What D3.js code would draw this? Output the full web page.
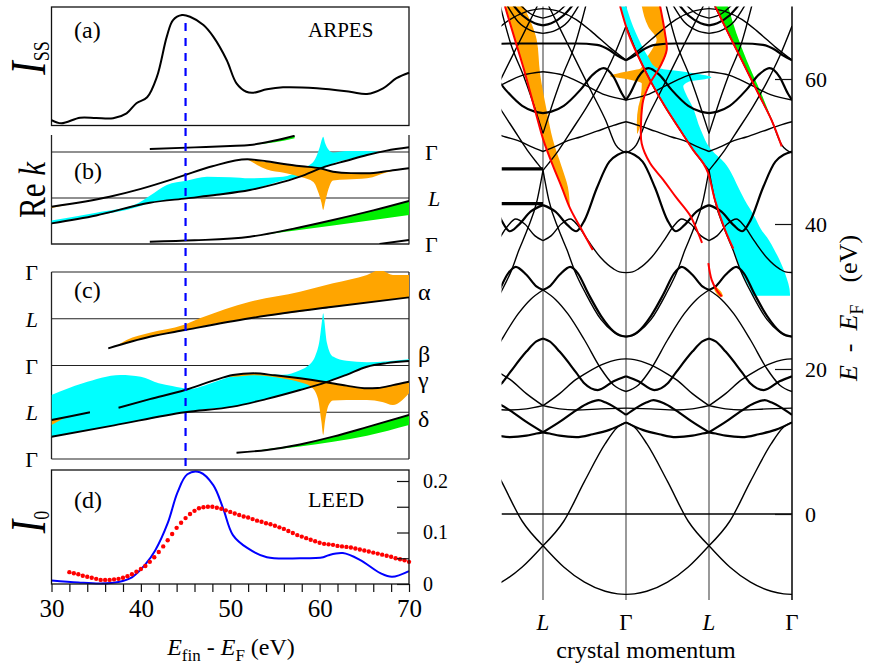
<!DOCTYPE html>
<html>
<head>
<meta charset="utf-8">
<script src="https://cdn.jsdelivr.net/npm/d3@7/dist/d3.min.js"></script>
<style>
  html, body { margin: 0; padding: 0; background: #fff; }
  svg { display: block; }
  text { font-family: "Liberation Serif", "Times New Roman", serif; fill: #000; }
</style>
</head>
<body>
<svg id="fig" width="872" height="669"></svg>
<script>
// ---------------- (a) ARPES surface-state intensity (arb. units) ----------------
const arpesE = [30, 31.1, 33.2, 35, 36.9, 38.4, 39.5, 40.7, 41.8, 42.9, 43.6, 44.6, 45.5, 47.0, 48.1, 49.6, 50.7, 51.8, 52.6, 54.1, 55.9, 59.7, 63.4, 65.3, 67.1, 68.6, 70];
const arpesI = [0.046, 0.019, 0.066, 0.063, 0.061, 0.103, 0.188, 0.238, 0.412, 0.75, 0.89, 0.932, 0.918, 0.848, 0.75, 0.553, 0.356, 0.285, 0.277, 0.305, 0.322, 0.314, 0.285, 0.266, 0.314, 0.399, 0.445];

// ---------------- (d) LEED specular intensity ----------------
const leedCalcE = [30, 33, 35.5, 37.5, 39.0, 40.5, 41.6, 43, 44.1, 45.2, 46.6, 48.1, 49.2, 50.3, 51.9, 54.1, 57.8, 60.4, 61, 62.6, 64.5, 66.8, 68.1, 70];
const leedCalcI = [0.007, 0.003, 0.001, 0.004, 0.013, 0.038, 0.065, 0.118, 0.178, 0.213, 0.217, 0.192, 0.147, 0.095, 0.07, 0.052, 0.05, 0.052, 0.056, 0.06, 0.047, 0.021, 0.014, 0.025];
const leedExpE = [32, 32.5, 33, 33.5, 34, 34.5, 35, 35.5, 36, 36.5, 37, 37.5, 38, 38.5, 39, 39.5, 40, 40.5, 41, 41.5,
  42, 42.5, 43, 43.5, 44, 44.5, 45, 45.5, 46, 46.5, 47, 47.5, 48, 48.5, 49, 49.5, 50, 50.5, 51, 51.5,
  52, 52.5, 53, 53.5, 54, 54.5, 55, 55.5, 56, 56.5, 57, 57.5, 58, 58.5, 59, 59.5, 60, 60.5, 61, 61.5,
  62, 62.5, 63, 63.5, 64, 64.5, 65, 65.5, 66, 66.5, 67, 67.5, 68, 68.5, 69, 69.5, 70];
const leedExpI = [0.023, 0.021, 0.019, 0.016, 0.014, 0.012, 0.010, 0.008, 0.008, 0.008, 0.009, 0.010, 0.012, 0.015, 0.019, 0.024, 0.029, 0.035, 0.043, 0.052,
  0.062, 0.073, 0.085, 0.097, 0.109, 0.119, 0.128, 0.136, 0.142, 0.147, 0.149, 0.150, 0.150, 0.148, 0.146, 0.143, 0.140, 0.137, 0.134, 0.131,
  0.129, 0.126, 0.123, 0.121, 0.118, 0.116, 0.113, 0.110, 0.107, 0.103, 0.099, 0.095, 0.092, 0.089, 0.086, 0.083, 0.080, 0.078, 0.077, 0.076,
  0.074, 0.073, 0.072, 0.071, 0.069, 0.067, 0.065, 0.063, 0.061, 0.059, 0.057, 0.055, 0.053, 0.050, 0.048, 0.046, 0.043];
const dTicksE = [30, 32, 34, 36, 38, 40, 42, 44, 46, 48, 50, 52, 54, 56, 58, 60, 62, 64, 66, 68, 70];
const dTicksI = [0, 0.05, 0.1, 0.15, 0.2];
const dLabelsI = {0: "0", 0.1: "0.1", 0.2: "0.2"};

// ---------------- (b) Re k of the final states: [E, k] ----------------
const bTop    = [[41.0, 2.065], [46, 2.10], [50, 2.13], [52.2, 2.152], [55, 2.25], [57.2, 2.354]];
const bUpper  = [[30, 0.811], [36.5, 1.028], [40, 1.2], [44.4, 1.463], [48, 1.69], [51.9, 1.841], [54, 1.80], [56, 1.74], [58, 1.69], [60.0, 1.646], [61.5, 1.572], [63.5, 1.54], [65.3, 1.537], [67.8, 1.59], [70, 1.646]];
const bLower  = [[30, 0.449], [35, 0.62], [41, 0.898], [45.1, 0.993], [48.5, 1.07], [52.2, 1.174], [55, 1.30], [57.8, 1.463], [60.6, 1.68], [63, 1.81], [65.3, 1.935], [67.5, 2.03], [70, 2.102]];
const bBottom = [[41.0, 0.05], [46, 0.08], [52.2, 0.159], [57, 0.33], [61.5, 0.522], [66, 0.73], [70, 0.935]];
const bCorner = [[66.7, 0], [70, 0.087]];
// weights drawn as bands: [E, kLow, kHigh]
const bCyan = [[30, 0.449, 0.51], [35, 0.62, 0.68], [39.5, 0.80, 0.87], [41, 0.898, 1.05], [42.9, 0.95, 1.283], [45.1, 0.993, 1.376], [47.4, 1.04, 1.463], [50, 1.11, 1.45], [52.2, 1.174, 1.428], [55.9, 1.38, 1.463], [57.8, 1.463, 1.60], [58.55, 1.50, 1.68], [59.5, 1.56, 1.85], [60.0, 1.60, 2.1], [60.3, 1.63, 2.30], [60.4, 1.64, 2.33], [60.6, 1.66, 2.2], [61, 1.70, 2.05], [61.5, 1.75, 1.99], [63, 1.83, 2.02], [65.3, 1.935, 2.02], [66.5, 1.99, 2.01]];
const bOrangeL = [[30, 0.78, 0.811], [32.5, 0.88, 0.89]];
const bOrange = [[51.9, 1.84, 1.841], [53, 1.72, 1.82], [54.1, 1.62, 1.78], [56, 1.55, 1.74], [58, 1.45, 1.69], [59.3, 1.35, 1.665], [59.9, 1.1, 1.65], [60.2, 0.9, 1.645], [60.4, 0.739, 1.64], [60.6, 0.9, 1.63], [61, 1.2, 1.60], [61.5, 1.38, 1.572], [63, 1.40, 1.55], [65.3, 1.428, 1.537], [67.8, 1.572, 1.59], [68.5, 1.6, 1.6]];
const bGreenTop = [[52.8, 2.16, 2.16], [55, 2.21, 2.25], [57.2, 2.30, 2.354]];
const bGreen = [[52.8, 0.17, 0.17], [56, 0.26, 0.30], [61.5, 0.40, 0.522], [66, 0.52, 0.73], [70, 0.63, 0.935]];
const bRightLabels = ["\u0393", "L", "\u0393"];

// ---------------- (c) Re k in the extended zone ----------------
const cAlpha  = [[36.35, 2.368], [41.0, 2.616], [44.94, 2.759], [52.2, 3.01], [61.5, 3.258], [70, 3.457]];
const cGammaL = [[30, 0.834], [32, 0.91], [34.3, 0.999]];
const cGammaR = [[37.5, 1.097], [41, 1.28], [44.94, 1.476], [48, 1.67], [50.3, 1.797], [52.6, 1.833], [55, 1.79], [57.8, 1.726], [60.4, 1.653], [63, 1.57], [65.3, 1.512], [66.5, 1.52], [68.2, 1.58], [70, 1.653]];
const cBeta   = [[30, 0.477], [37, 0.72], [44.94, 0.999], [50.3, 1.119], [54, 1.28], [57.8, 1.476], [60.6, 1.632], [63, 1.80], [65.3, 1.974], [67.5, 2.05], [70, 2.096]];
const cDelta  = [[50.7, 0.135], [54.1, 0.193], [57.8, 0.31], [61.5, 0.477], [65.3, 0.68], [70, 0.941]];
const cOrangeAlpha = [[37.5, 2.43, 2.45], [38.4, 2.48, 2.545], [41, 2.616, 2.70], [44.75, 2.75, 2.866], [46.6, 2.83, 3.01], [52.2, 3.01, 3.365], [57.8, 3.15, 3.578], [61.5, 3.258, 3.758], [65.3, 3.34, 3.936], [66.75, 3.38, 4.043], [68.2, 3.42, 3.936], [70, 3.457, 3.936]];
const cCyan = [[30, 0.477, 1.369], [33.5, 0.599, 1.619], [37.7, 0.746, 1.797], [40, 0.826, 1.76], [42, 0.895, 1.619], [43.5, 0.95, 1.56], [45.5, 1.02, 1.50], [48, 1.08, 1.63], [50.3, 1.119, 1.77], [52.6, 1.21, 1.81], [55.9, 1.38, 1.80], [57.8, 1.476, 1.90], [58.55, 1.52, 1.974], [59.5, 1.56, 2.2], [60.0, 1.59, 2.55], [60.3, 1.61, 3.0], [60.4, 1.62, 3.117], [60.5, 1.625, 3.0], [60.8, 1.645, 2.5], [61.5, 1.70, 2.19], [63, 1.80, 2.10], [65.3, 1.974, 2.068], [70, 2.096, 2.132]];
const cOrangeL = [[30, 0.727, 0.834], [31.7, 0.905, 0.905]];
const cOrange = [[49.5, 1.76, 1.77], [50.3, 1.76, 1.797], [52.6, 1.79, 1.833], [55.9, 1.72, 1.775], [57.8, 1.64, 1.726], [59, 1.55, 1.69], [59.8, 1.3, 1.67], [60.2, 0.8, 1.66], [60.4, 0.513, 1.653], [60.6, 0.8, 1.645], [61, 1.15, 1.63], [61.5, 1.25, 1.61], [63, 1.26, 1.57], [65.3, 1.262, 1.512], [67, 1.22, 1.53], [68.2, 1.155, 1.58], [70, 1.405, 1.653]];
const cGreen = [[52.7, 0.17, 0.17], [55, 0.21, 0.235], [57.8, 0.27, 0.31], [61.5, 0.37, 0.477], [65.3, 0.5, 0.68], [70, 0.727, 0.941]];
const cLeftLabels = ["\u0393", "L", "\u0393", "L", "\u0393"];
const cBranchNames = ["\u03b1", "\u03b2", "\u03b3", "\u03b4"];
const cBranchK = [3.55, 2.22, 1.67, 0.83];

// ---------------- band structure along the [111] line, Gamma (u=0) -> L (u=1): [u, E] ----------------
const bandA  = [[0, -11.08], [0.1, -11.01], [0.25, -10.66], [0.5, -9.4], [0.75, -7.3], [1, -4.37]];
const bandB  = [[0, 12.64], [0.1, 12.0], [0.25, 9.7], [0.5, 4.5], [0.75, -1.0], [1, -4.37]];
const bandC  = [[0, 12.64], [0.2, 11.6], [0.4, 11.0], [0.6, 10.6], [0.8, 10.8], [0.92, 11.1], [1, 11.27]];
const bandD  = [[0, 13.66], [0.12, 14.6], [0.25, 15.4], [0.33, 15.7], [0.45, 15.3], [0.6, 14.3], [0.8, 12.7], [1, 11.27]];
const bandE  = [[0, 14.6], [0.3, 14.5], [0.6, 14.35], [0.8, 14.5], [1, 14.94]];
const bandF  = [[0, 21.4], [0.1, 21.3], [0.29, 20.6], [0.5, 19.3], [0.61, 18.5], [0.8, 16.6], [1, 14.94]];
const bandG  = [[0, 19.0], [0.15, 18.3], [0.34, 17.1], [0.5, 18.0], [0.6, 19.5], [0.8, 22.4], [0.92, 23.8], [1, 24.2]];
const bandH  = [[0, 24.46], [0.08, 24.7], [0.15, 25.2], [0.3, 27.3], [0.45, 30.3], [0.58, 33.2], [0.67, 34.1], [0.8, 33.0], [0.92, 31.4], [1, 30.9]];
const bandI  = [[0, 24.46], [0.08, 24.6], [0.15, 25.1], [0.3, 26.8], [0.48, 30.3], [0.62, 33.6], [0.71, 36.4], [0.81, 39.2], [0.93, 43.3], [1, 47.4]];
const bandI2 = [[0, 16.9], [0.15, 17.8], [0.3, 20.0], [0.5, 24.0], [0.7, 27.6], [0.85, 29.6], [1, 30.9]];
const bandJ  = [[0, 33.3], [0.08, 33.4], [0.15, 33.8], [0.3, 35.3], [0.45, 37.6], [0.58, 39.8], [0.67, 40.7], [0.78, 40.0], [0.9, 38.4], [1, 37.7]];
const bandK  = [[0, 50.0], [0.2, 48.6], [0.35, 45.0], [0.5, 40.5], [0.6, 39.0], [0.7, 39.8], [0.85, 41.7], [1, 42.6]];
const bandQ  = [[0, 67.3], [0.15, 63.1], [0.31, 59.4], [0.47, 56.2], [0.65, 53.0], [0.81, 50.2], [0.93, 48.4], [1, 47.4]];
const bandV  = [[0.48, 70.3], [0.61, 64.9], [0.77, 60.3], [0.91, 55.7], [1, 52.5]];
const bandW  = [[0, 49.8], [0.124, 50.9], [0.245, 54.3], [0.406, 58.0], [0.606, 62.6], [0.767, 66.3], [0.928, 70.0], [0.97, 71]];
const bandX  = [[0, 54.1], [0.15, 53.6], [0.35, 52.8], [0.55, 52.0], [0.7, 51.5], [0.85, 50.7], [1, 50.0]];
const bandY  = [[0, 57.1], [0.05, 58.0], [0.15, 60.3], [0.27, 61.5], [0.4, 60.6], [0.55, 58.5], [0.75, 56.3], [0.9, 55.5], [1, 55.3]];
const bandT1 = [[0, 62.6], [0.1, 63.2], [0.2, 64.0], [0.35, 64.7], [0.6, 64.9], [1, 64.9]];
const bandT2 = [[0, 57.1], [0.25, 57.8], [0.5, 59.2], [0.75, 60.5], [1, 61.0]];
const bandT3 = [[0, 62.6], [0.2, 64.4], [0.4, 66.4], [0.6, 68.2], [0.8, 69.3], [1, 69.7]];
const bandU1 = [[0.55, 70.5], [0.7, 67.9], [0.85, 66.7], [1, 66.3]];
const bandU2 = [[0.62, 70.5], [0.75, 68.8], [0.9, 67.7], [1, 67.4]];
const bandU3 = [[0.7, 70.5], [0.85, 69.0], [1, 68.4]];
const thinBands  = [bandA, bandB, bandE, bandF, bandI, bandI2, bandJ, bandQ, bandV, bandW, bandX, bandT2, bandT3, bandU1, bandU3];
const thickBands = [bandC, bandD, bandG, bandH, bandK, bandY, bandT1, bandU2];
const lMarkE = [47.6, 42.8];

// final-state weights on the band plot: [E, kLeft, kRight] and red guide paths [k, E]
const orangeLeft = [[70.1, -1.46, -1.237], [65.4, -1.337, -1.076], [60.8, -1.217, -1.036], [55.7, -1.096, -0.956], [51.6, -0.996, -0.88], [47.9, -0.876, -0.775], [45.1, -0.775, -0.70], [42.2, -0.675, -0.675]];
const orangeS = [[70.1, 0.189, 0.41], [67.2, 0.269, 0.455], [65.4, 0.37, 0.48], [64.0, 0.31, 0.49], [62.2, 0.208, 0.44], [61.5, 0.18, 0.41], [61.0, -0.01, 0.39], [60.4, -0.193, 0.36], [59.9, 0.05, 0.33], [59.4, 0.19, 0.289], [57.1, 0.17, 0.208], [56.2, 0.149, 0.20], [53.9, 0.13, 0.181], [52.5, 0.133, 0.14]];
const orangeSmall = [[31.6, 1.05, 1.06], [30.6, 1.08, 1.15], [30.0, 1.12, 1.17]];
const cyanBand = [[70.1, -0.072, 0.0], [66.3, 0.028, 0.12], [63.1, 0.148, 0.265], [61.6, 0.20, 0.36], [61.0, 0.23, 0.70], [60.2, 0.27, 1.03], [59.6, 0.30, 0.75], [59.0, 0.33, 0.69], [58.0, 0.39, 0.72], [56.2, 0.47, 0.80], [53.0, 0.65, 0.90], [50.2, 0.81, 1.03], [48.4, 0.93, 1.19], [47.0, 0.99, 1.27], [45.6, 1.03, 1.33], [43.3, 1.072, 1.43], [41.0, 1.13, 1.55], [39.2, 1.193, 1.63], [37.8, 1.253, 1.72], [36.6, 1.293, 1.78], [33.2, 1.398, 1.916], [30.3, 1.518, 1.976], [30.1, 1.52, 1.976]];
const greenBand = [[70.1, 1.072, 1.229], [66.3, 1.233, 1.33], [62.6, 1.394, 1.454], [58.0, 1.594, 1.63], [54.3, 1.755, 1.76]];
const redLeft  = [[-1.46, 70.1], [-1.337, 65.4], [-1.217, 60.8], [-1.096, 55.7], [-0.996, 51.6], [-0.876, 47.9], [-0.775, 45.1], [-0.675, 42.2], [-0.534, 39.2], [-0.40, 36.4]];
const redS     = [[0.41, 70.1], [0.47, 66.3], [0.49, 64.0], [0.41, 61.7], [0.289, 59.4], [0.208, 57.1], [0.181, 53.9], [0.189, 51.1], [0.289, 48.4], [0.449, 46.1], [0.602, 43.7], [0.771, 41.2], [0.867, 38.8], [0.916, 37.4]];
const redCyan  = [[-0.072, 70.1], [0.028, 66.3], [0.148, 63.1], [0.31, 59.4], [0.47, 56.2], [0.65, 53.0], [0.81, 50.2], [0.93, 48.4], [0.99, 47.0], [1.072, 43.3], [1.193, 39.2], [1.293, 36.6]];
const redGreen = [[1.072, 70.1], [1.233, 66.3], [1.394, 62.6], [1.594, 58.0], [1.755, 54.3], [1.876, 50.7]];
const redShort = [[0.992, 34.6], [1.032, 32.3], [1.092, 30.9], [1.153, 30.0]];
const kTickPos = [-1, 0, 1, 2];
const kTickLab = ["L", "\u0393", "L", "\u0393"];
const eTicks = [0, 20, 40, 60];

// ================= drawing =================
const SERIF = '"Liberation Serif", "Times New Roman", serif';
const ORANGE = "#ffa500", CYAN = "#00ffff", GREEN = "#00f000", RED = "#ff0000", BLUE = "#0000ff";
const svg = d3.select("#fig");

const xE = d3.scaleLinear().domain([30, 70]).range([51.5, 409]);
const ya = d3.scaleLinear().domain([0, 1]).range([125.5, 7]);
const yb = d3.scaleLinear().domain([0, 2]).range([244, 152]);
const yc = d3.scaleLinear().domain([0, 4]).range([459, 272]);
const yd = d3.scaleLinear().domain([0, 0.2]).range([584, 481]);
const xk = d3.scaleLinear().domain([-1.5, 2]).range([501.5, 792]);
const yE = d3.scaleLinear().domain([0, 60]).range([514, 79]);

const defs = svg.append("defs");
function clip(id, x, y, w, h) {
  defs.append("clipPath").attr("id", id).append("rect").attr("x", x).attr("y", y).attr("width", w).attr("height", h);
  return "url(#" + id + ")";
}
function txt(g, x, y, s, size, italic, anchor) {
  return g.append("text").attr("x", x).attr("y", y).attr("font-size", size)
    .attr("font-style", italic ? "italic" : null).attr("text-anchor", anchor || "start").text(s);
}
function hline(g, x1, x2, y, w, col) {
  g.append("line").attr("x1", x1).attr("x2", x2).attr("y1", y).attr("y2", y).attr("stroke", col || "#000").attr("stroke-width", w || 1.2);
}
function vline(g, x, y1, y2, w, col) {
  g.append("line").attr("x1", x).attr("x2", x).attr("y1", y1).attr("y2", y2).attr("stroke", col || "#000").attr("stroke-width", w || 1.2);
}
// rotated axis title built from [text, size, italic, dy, dx] pieces
function rotTitle(x, y, parts, stretch, size) {
  const t = svg.append("text").attr("transform", `translate(${x},${y}) rotate(-90) scale(1,${stretch})`).attr("text-anchor", "middle");
  if (size) t.attr("font-size", size);
  parts.forEach(p => t.append("tspan").attr("font-size", p[1]).attr("font-style", p[2] ? "italic" : null)
    .attr("dy", p[3] || 0).attr("dx", p[4] || 0).text(p[0]));
  return t;
}

// ---------- panel (a) ----------
const ga = svg.append("g");
ga.append("rect").attr("x", 51.5).attr("y", 7).attr("width", 357.5).attr("height", 118.5).attr("fill", "none").attr("stroke", "#111").attr("stroke-width", 1.3);
ga.append("path").datum(d3.zip(arpesE, arpesI)).attr("fill", "none").attr("stroke", "#000").attr("stroke-width", 2)
  .attr("d", d3.line().x(d => xE(d[0])).y(d => ya(d[1])).curve(d3.curveCatmullRom.alpha(0.5)));
txt(ga, 74, 38, "(a)", 24);
txt(ga, 308, 37, "ARPES", 21);
rotTitle(45, 58, [["I", 40, true], ["SS", 18, false, 3]], 1.25);

// ---------- shared helper for the Re k panels ----------
function kPanel(g, ys, lines, fills, clipId, top, bottom) {
  const cp = clip(clipId, 51.5, top, 357.5, bottom - top);
  const fg = g.append("g").attr("clip-path", cp);
  fills.forEach(f => {
    fg.append("path").datum(f[0]).attr("fill", f[1]).attr("stroke", "none")
      .attr("d", d3.area().x(d => xE(d[0])).y0(d => ys(d[1])).y1(d => ys(d[2])).curve(d3.curveMonotoneX));
  });
  lines.forEach(l => {
    fg.append("path").datum(l).attr("fill", "none").attr("stroke", "#000").attr("stroke-width", 1.9)
      .attr("d", d3.line().x(d => xE(d[0])).y(d => ys(d[1])).curve(d3.curveMonotoneX));
  });
}

// ---------- panel (b) ----------
const gb = svg.append("g");
[1, 2].forEach(k => hline(gb, 51.5, 409, yb(k), 1.2, "#222"));
hline(gb, 51.5, 409, yb(0), 1.3, "#222");
vline(gb, 51.5, 135, 244.6, 1.3, "#222");
vline(gb, 409, 135, 244.6, 1.3, "#222");
kPanel(gb, yb, [bTop, bUpper, bLower, bBottom, bCorner],
  [[bCyan, CYAN], [bOrangeL, ORANGE], [bOrange, ORANGE], [bGreenTop, GREEN], [bGreen, GREEN]], "clipB", 135, 244);
txt(gb, 74, 179, "(b)", 24);
bRightLabels.forEach((s, i) => txt(gb, s === "L" ? 428 : 425, yb(2 - i) + 8, s, 22, s === "L"));
rotTitle(45, 190, [["Re ", 31, false], ["k", 31, true]], 1.2);

// ---------- panel (c) ----------
const gc = svg.append("g");
[0, 1, 2, 3, 4].forEach(k => hline(gc, 51.5, 409, yc(k), 1.2, "#222"));
vline(gc, 51.5, 272, 459, 1.3, "#222");
vline(gc, 409, 272, 459, 1.3, "#222");
kPanel(gc, yc, [cAlpha, cGammaL, cGammaR, cBeta, cDelta],
  [[cCyan, CYAN], [cOrangeAlpha, ORANGE], [cOrangeL, ORANGE], [cOrange, ORANGE], [cGreen, GREEN]], "clipC", 271, 459);
txt(gc, 74, 298, "(c)", 24);
cLeftLabels.forEach((s, i) => txt(gc, 38, yc(4 - i) + 8, s, 22, s === "L", "end"));
cBranchNames.forEach((s, i) => txt(gc, 418, yc(cBranchK[i]) + 7, s, 24));

// ---------- panel (d) ----------
const gd = svg.append("g");
gd.append("path").datum(d3.zip(leedCalcE, leedCalcI)).attr("fill", "none").attr("stroke", BLUE).attr("stroke-width", 2)
  .attr("d", d3.line().x(d => xE(d[0])).y(d => yd(d[1])).curve(d3.curveCatmullRom.alpha(0.5)));
gd.selectAll("circle.exp").data(d3.zip(leedExpE, leedExpI)).join("circle").attr("class", "exp")
  .attr("cx", d => xE(d[0])).attr("cy", d => yd(d[1])).attr("r", 2.2).attr("fill", RED);
gd.append("rect").attr("x", 51.5).attr("y", 470).attr("width", 357.5).attr("height", 114).attr("fill", "none").attr("stroke", "#111").attr("stroke-width", 1.3);
const axB = gd.append("g").attr("transform", "translate(0,584)")
  .call(d3.axisBottom(xE).tickValues(dTicksE).tickSize(8).tickPadding(7).tickFormat(d => d % 10 === 0 ? d : ""));
axB.select(".domain").remove();
axB.attr("font-family", SERIF).attr("font-size", 25);
axB.selectAll("line").attr("stroke", "#111").attr("stroke-width", 1.2);
const axR = gd.append("g").attr("transform", "translate(409,0)")
  .call(d3.axisRight(yd).tickValues(dTicksI).tickSizeInner(-12).tickSizeOuter(0).tickPadding(14).tickFormat(d => dLabelsI[d] || ""));
axR.select(".domain").remove();
axR.attr("font-family", SERIF).attr("font-size", 20);
axR.selectAll("line").attr("stroke", "#111").attr("stroke-width", 1.2);
txt(gd, 74, 508, "(d)", 24);
txt(gd, 308, 507, "LEED", 22);
rotTitle(45, 522, [["I", 40, true], ["0", 18, false, 3]], 1.25);
const xt = gd.append("text").attr("x", 231).attr("y", 655).attr("text-anchor", "middle").attr("font-size", 24);
xt.append("tspan").attr("font-style", "italic").text("E");
xt.append("tspan").attr("font-size", 17).attr("dy", 6).text("fin");
xt.append("tspan").attr("dy", -6).text(" - ");
xt.append("tspan").attr("font-style", "italic").text("E");
xt.append("tspan").attr("font-size", 17).attr("dy", 6).text("F");
xt.append("tspan").attr("dy", -6).text(" (eV)");

// blue marker through the left panels
svg.append("line").attr("x1", xE(45)).attr("x2", xE(45)).attr("y1", 23).attr("y2", 472)
  .attr("stroke", BLUE).attr("stroke-width", 2.2).attr("stroke-dasharray", "8,7");

// ---------- band structure ----------
const gr = svg.append("g");
kTickPos.slice(0, 3).forEach(k => vline(gr, xk(k), 6.5, 600, 1.7, "#888"));
const bandClip = clip("clipBands", 501.5, 6.5, 290.5, 594);
const gBand = gr.append("g").attr("clip-path", bandClip);
const areaK = d3.area().y(d => yE(d[0])).x0(d => xk(d[1])).x1(d => xk(d[2])).curve(d3.curveMonotoneY);
[[orangeLeft, ORANGE], [orangeS, ORANGE], [orangeSmall, ORANGE], [cyanBand, CYAN], [greenBand, GREEN]].forEach(f => {
  gBand.append("path").datum(f[0]).attr("fill", f[1]).attr("d", areaK);
});
// each Gamma->L segment is repeated by the mirror symmetry of the zone
function images(seg) {
  return [
    seg.map(p => [p[0], p[1]]),
    seg.map(p => [-p[0], p[1]]).reverse(),
    seg.map(p => [2 - p[0], p[1]]).reverse(),
    seg.map(p => [p[0] - 2, p[1]])
  ];
}
const bandLine = d3.line().x(d => xk(d[0])).y(d => yE(d[1])).curve(d3.curveMonotoneX);
function drawBands(list, w) {
  list.forEach(seg => images(seg).forEach(img => {
    gBand.append("path").datum(img).attr("fill", "none").attr("stroke", "#000").attr("stroke-width", w)
      .attr("stroke-linejoin", "round").attr("d", bandLine);
  }));
}
drawBands(thinBands, 1.4);
drawBands(thickBands, 2.2);
hline(gBand, 501.5, 792, yE(0), 1.6);
const redLine = d3.line().x(d => xk(d[0])).y(d => yE(d[1])).curve(d3.curveCatmullRom.alpha(0.5));
[redLeft, redS, redCyan, redGreen, redShort].forEach(r => {
  gBand.append("path").datum(r).attr("fill", "none").attr("stroke", RED).attr("stroke-width", 2).attr("d", redLine);
});
lMarkE.forEach(e => hline(gBand, 501.5, xk(-1), yE(e), 3.2));
vline(gr, xk(2), 6.5, 600, 1.5, "#000");
const axE = gr.append("g").attr("transform", "translate(792,0)")
  .call(d3.axisRight(yE).tickValues(eTicks).tickSizeInner(-17).tickSizeOuter(0).tickPadding(13));
axE.select(".domain").remove();
axE.attr("font-family", SERIF).attr("font-size", 22);
axE.selectAll("line").attr("stroke", "#111").attr("stroke-width", 1.2);
kTickPos.forEach((k, i) => txt(gr, xk(k), 630, kTickLab[i], 23, kTickLab[i] === "L", "middle"));
txt(gr, 646, 658, "crystal momentum", 24, false, "middle");
rotTitle(857, 308, [["E", 26, true], ["-", 26, false, 0, 13], ["E", 26, true, 0, 13], ["F", 18, false, 6], ["(eV)", 26, false, -6, 22]], 1, 26);
</script>
</body>
</html>
